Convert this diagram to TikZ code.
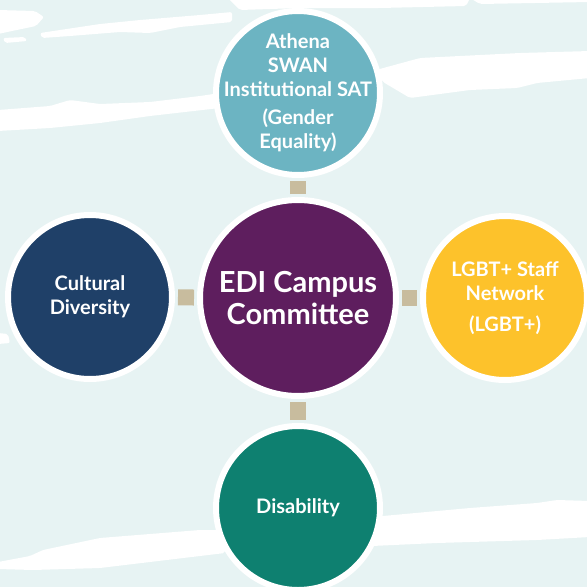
\documentclass[tikz,border=0pt]{standalone}
\usepackage{fontspec}
\setmainfont{Lato}
\definecolor{bgwash}{HTML}{E7F3F3}
\definecolor{hubpurple}{HTML}{5E1E5E}
\definecolor{teal}{HTML}{6CB4C2}
\definecolor{sun}{HTML}{FDC22B}
\definecolor{navy}{HTML}{1F4068}
\definecolor{seagreen}{HTML}{0E8070}
\definecolor{linkbeige}{HTML}{C8BC9E}
\tikzset{
  brush/.style={fill=white, draw=none, rounded corners=2pt},
  hub/.style={circle, draw=white, line width=6pt, fill=hubpurple,
    minimum size=196pt, inner sep=0pt},
  hubtext/.style={text=white, align=center, inner sep=0pt,
    font=\bfseries\fontsize{29}{32}\selectfont},
  spoke/.style={circle, draw=white, line width=6pt,
    minimum size=164pt, inner sep=0pt},
  spoketext/.style={text=white, align=center, inner sep=0pt,
    font=\bfseries\fontsize{20}{24}\selectfont},
  link/.style={draw=linkbeige, line width=16pt, shorten <=3pt, shorten >=3pt}
}
\begin{document}
\begin{tikzpicture}[x=1pt, y=-1pt]
  \useasboundingbox (0,0) rectangle (587,587);
  \clip (0,0) rectangle (587,587);
  \fill[bgwash] (0,0) rectangle (587,587);

  % white paint strokes across the backdrop
  \fill[brush] (-2,10) -- (35,11) -- (44,17) -- (36,26) -- (12,31) -- (-2,34) -- cycle;
  \fill[brush] (3,38) -- (25,37) -- (27,41) -- (5,43) -- cycle;
  \fill[brush] (40,33) -- (100,24) -- (140,20) -- (200,15) -- (232,12) -- (232,22)
     -- (180,27) -- (150,33) -- (120,32) -- (70,36) -- (42,38) -- cycle;
  \fill[brush] (228,-2) -- (470,-2) -- (466,6) -- (380,8) -- (300,8) -- (240,10) -- cycle;
  \fill[brush] (470,-2) -- (590,-2) -- (590,2) -- (480,4) -- cycle;
  \fill[brush] (-2,110) -- (50,106) -- (70,100) -- (100,104) -- (150,102) -- (200,96)
     -- (220,93) -- (220,108) -- (150,116) -- (100,123) -- (50,128) -- (-2,131) -- cycle;
  \fill[brush] (376,70) -- (420,58) -- (520,53) -- (590,51) -- (590,78) -- (537,83)
     -- (517,88) -- (470,90) -- (410,98) -- (383,82) -- cycle;
  \fill[brush] (-2,333) -- (8,334) -- (10,343) -- (-2,344) -- cycle;
  \fill[brush] (-2,562) -- (30,556) -- (43,550) -- (100,538) -- (200,530) -- (225,530)
     -- (225,553) -- (100,568) -- (33,570) -- (-2,569) -- cycle;
  \fill[brush] (372,517) -- (470,508) -- (537,503) -- (557,500) -- (590,501)
     -- (590,537) -- (537,540) -- (437,543) -- (372,546) -- cycle;

  % committee hub and its four groups (fixed-size discs, text set on top)
  \node[hub] (edi) at (298,298) {};
  \node[spoke, fill=teal] (athena) at (298,93) {};
  \node[spoke, fill=sun] (lgbt) at (505,298) {};
  \node[spoke, fill=navy] (culture) at (90,297) {};
  \node[spoke, fill=seagreen] (disab) at (298,508) {};

  \node[hubtext] (editext) at (edi.center) {EDI Campus\\Committee};
  \node[spoketext] (athenatext) at (athena.center)
    {Athena\\SWAN\\Institutional SAT\\[4pt](Gender\\Equality)};
  \node[spoketext] (lgbttext) at (lgbt.center) {LGBT+ Staff\\Network\\[7pt](LGBT+)};
  \node[spoketext] (culturetext) at (culture.center) {Cultural\\Diversity};
  \node[spoketext] (disabtext) at (disab.center) {Disability};

  % links from the hub to each group
  \draw[link] (edi) -- (athena);
  \draw[link] (edi) -- (lgbt);
  \draw[link] (edi) -- (culture);
  \draw[link] (edi) -- (disab);
\end{tikzpicture}
\end{document}
